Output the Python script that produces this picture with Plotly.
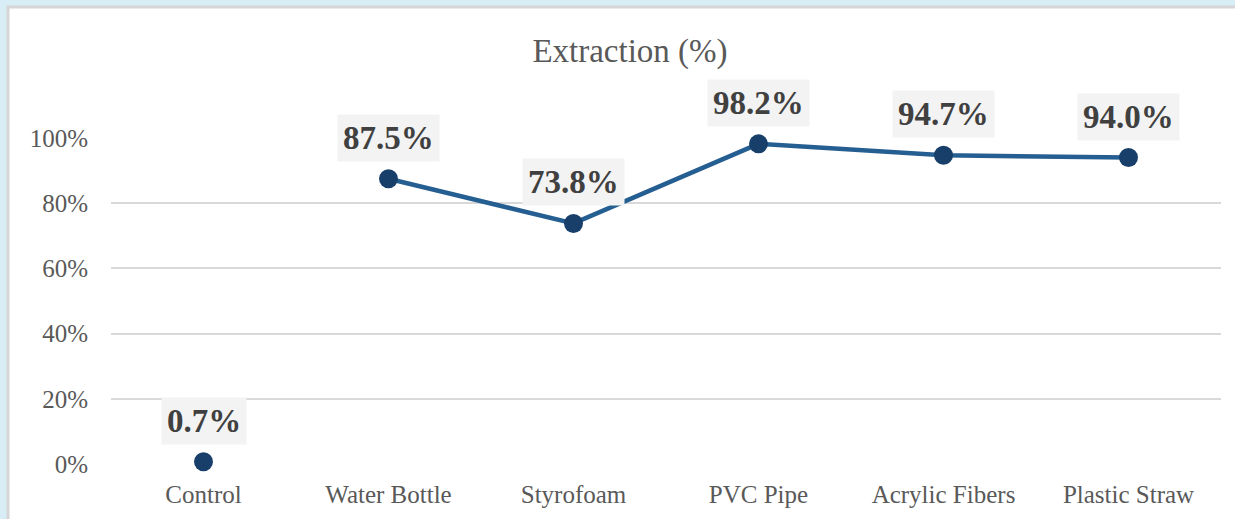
import plotly.graph_objects as go

categories = ["Control", "Water Bottle", "Styrofoam", "PVC Pipe", "Acrylic Fibers", "Plastic Straw"]
values = [0.007, 0.875, 0.738, 0.982, 0.947, 0.940]
labels = ["0.7%", "87.5%", "73.8%", "98.2%", "94.7%", "94.0%"]
y_ticks = [0, 0.2, 0.4, 0.6, 0.8, 1.0]
y_ticktext = ["0%", "20%", "40%", "60%", "80%", "100%"]

W, H = 1235, 519
ml, mr, mt, mb = 111, 14, 138, 55
pw, ph = W - ml - mr, H - mt - mb

def px_x(p):
    return (p - ml) / pw

def px_y(p):
    return (H - mb - p) / ph

fig = go.Figure()

# connected line (Control is shown on its own)
fig.add_trace(go.Scatter(
    x=categories[1:], y=values[1:], mode="lines",
    line=dict(color="#255e91", width=4.5), hoverinfo="skip", cliponaxis=False,
    showlegend=False))
fig.add_trace(go.Scatter(
    x=categories, y=values, mode="markers",
    marker=dict(color="#173f69", size=19), cliponaxis=False, showlegend=False))

for c, v, t in zip(categories, values, labels):
    fig.add_annotation(
        x=c, y=v, xref="x", yref="y", text="<b>" + t + "</b>", showarrow=False,
        yshift=41, font=dict(family="Liberation Serif", size=33, color="#404040"),
        bgcolor="#f3f3f3", borderpad=5)

fig.add_shape(type="rect", xref="paper", yref="paper",
              x0=px_x(8), x1=px_x(1245), y0=px_y(530), y1=px_y(7),
              fillcolor="white", line=dict(color="#d6d6d6", width=3), layer="below")

fig.update_layout(
    width=W, height=H,
    margin=dict(l=ml, r=mr, t=mt, b=mb),
    paper_bgcolor="#d8edf5", plot_bgcolor="rgba(0,0,0,0)",
    title=dict(text="Extraction (%)", x=630 / W, xref="container", xanchor="center",
               y=1 - 50 / H, yanchor="middle", yref="container",
               font=dict(family="Liberation Serif", size=33, color="#595959")),
    xaxis=dict(type="category", categoryorder="array", categoryarray=categories,
               range=[-0.5, 5.5], showgrid=False, zeroline=False,
               showline=False, ticks="", automargin=False,
               tickfont=dict(family="Liberation Serif", size=25, color="#595959"),
               ticklabelstandoff=13),
    yaxis=dict(range=[0, 1.0], tickvals=y_ticks, ticktext=y_ticktext,
               showgrid=True, gridcolor="#d9d9d9", gridwidth=2, zeroline=False,
               showline=False, ticks="", automargin=False,
               tickfont=dict(family="Liberation Serif", size=25, color="#595959"),
               ticklabelstandoff=22),
    font=dict(family="Liberation Serif"),
)

fig.write_html("out.html", post_script="document.body.style.margin='0';",
               config={"displayModeBar": False})
